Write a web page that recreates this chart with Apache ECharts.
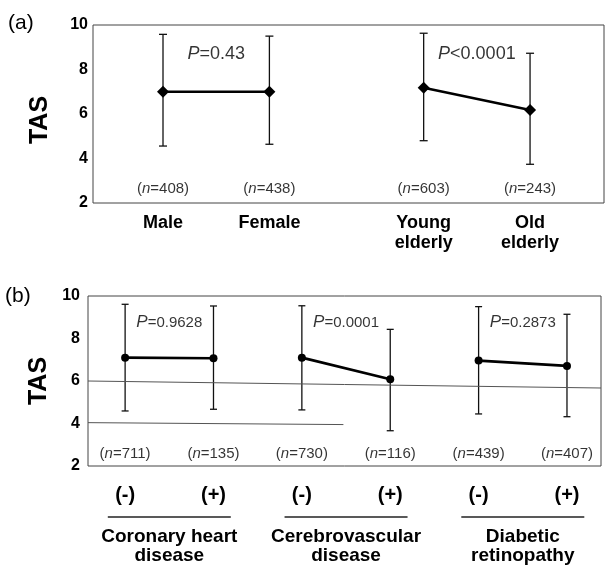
<!DOCTYPE html>
<html>
<head>
<meta charset="utf-8">
<script src="https://cdn.jsdelivr.net/npm/echarts@6/dist/echarts.min.js"></script>
<style>
html,body{margin:0;padding:0;background:#fff;}
#c{width:608px;height:573px;}
</style>
</head>
<body>
<div id="c"></div>
<script>
// ---------- Data ----------
const yTicks = [2, 4, 6, 8, 10];

// Panel (a)
const panelACategories = ['Male', 'Female', 'Young\nelderly', 'Old\nelderly'];
const panelAMeans = [7.0, 7.0, 7.18, 6.18];
const panelAUpper = [9.58, 9.5, 9.63, 8.73];
const panelALower = [4.56, 4.64, 4.8, 3.74];
const panelAN = [408, 438, 603, 243];
const panelAP = ['=0.43', '<0.0001'];

// Panel (b)
const panelBGroups = ['Coronary heart\ndisease', 'Cerebrovascular\ndisease', 'Diabetic\nretinopathy'];
const panelBStatus = ['(-)', '(+)'];
const panelBMeans = [7.1, 7.07, 7.1, 6.08, 6.96, 6.71];
const panelBUpper = [9.61, 9.53, 9.54, 8.43, 9.5, 9.14];
const panelBLower = [4.59, 4.67, 4.64, 3.66, 4.45, 4.32];
const panelBN = [711, 135, 730, 116, 439, 407];
const panelBP = ['=0.9628', '=0.0001', '=0.2873'];

// ---------- Layout helpers ----------
const FONT = '"Liberation Sans", Arial, Helvetica, sans-serif';
const aPairGap = 1.45;
const aX = panelACategories.map((_, i) => Math.floor(i / 2) * (1 + aPairGap) + (i % 2));
const bX = panelBMeans.map((_, i) => i);
const bGroupMid = panelBGroups.map((_, g) => (bX[2 * g] + bX[2 * g + 1]) / 2);

function findIdx(arr, v) {
  for (let i = 0; i < arr.length; i++) if (Math.abs(arr[i] - v) < 1e-6) return i;
  return -1;
}

function errorBars(xs, lo, hi, gi, cap) {
  return {
    type: 'custom', xAxisIndex: gi === 0 ? 0 : 1, yAxisIndex: gi, silent: true, z: 2,
    data: xs.map((x, i) => [x, lo[i], hi[i]]),
    encode: { x: 0, y: [1, 2] },
    renderItem(params, api) {
      const x = api.value(0);
      const p1 = api.coord([x, api.value(1)]);
      const p2 = api.coord([x, api.value(2)]);
      const st = { stroke: '#111', lineWidth: 1.3 };
      return {
        type: 'group', children: [
          { type: 'line', shape: { x1: p1[0], y1: p1[1], x2: p2[0], y2: p2[1] }, style: st },
          { type: 'line', shape: { x1: p1[0] - cap, y1: p1[1], x2: p1[0] + cap, y2: p1[1] }, style: st },
          { type: 'line', shape: { x1: p2[0] - cap, y1: p2[1], x2: p2[0] + cap, y2: p2[1] }, style: st }
        ]
      };
    }
  };
}

function pairLines(xs, means, gi, symbol, size, width) {
  const out = [];
  for (let g = 0; g < xs.length / 2; g++) {
    out.push({
      type: 'line', xAxisIndex: gi === 0 ? 0 : 1, yAxisIndex: gi, silent: true, z: 3,
      data: [[xs[2 * g], means[2 * g]], [xs[2 * g + 1], means[2 * g + 1]]],
      symbol: symbol, symbolSize: size, showSymbol: true,
      lineStyle: { color: '#000', width: width },
      itemStyle: { color: '#000' }
    });
  }
  return out;
}

function nLabels(xs, ns, gi, dist) {
  return {
    type: 'scatter', xAxisIndex: gi === 0 ? 0 : 1, yAxisIndex: gi, silent: true,
    symbolSize: 0,
    data: xs.map(x => [x, 2]),
    label: {
      show: true, position: 'top', distance: dist,
      formatter: p => '({i|n}=' + ns[p.dataIndex] + ')',
      fontSize: 15, color: '#000', fontFamily: FONT,
      rich: { i: { fontStyle: 'italic', fontSize: 15, color: '#000', fontFamily: FONT } }
    }
  };
}

function pLabels(xs, ps, gi, yv, pSize, tSize) {
  return {
    type: 'scatter', xAxisIndex: gi === 0 ? 0 : 1, yAxisIndex: gi, silent: true,
    symbolSize: 0,
    data: ps.map((_, g) => [(xs[2 * g] + xs[2 * g + 1]) / 2, yv]),
    label: {
      show: true, position: 'inside',
      formatter: p => '{i|P}{t|' + ps[p.dataIndex] + '}',
      rich: {
        i: { fontStyle: 'italic', fontSize: pSize, color: '#000', fontFamily: FONT },
        t: { fontSize: tSize, color: '#000', fontFamily: FONT }
      }
    }
  };
}

const yAxisBase = (gi, margin, nameGap, namePad) => ({
  gridIndex: gi, type: 'value', min: yTicks[0], max: yTicks[yTicks.length - 1], interval: 2,
  name: 'TAS', nameLocation: 'middle', nameGap: nameGap, nameRotate: 90,
  nameTextStyle: { fontSize: 25, fontWeight: 'bold', color: '#000', fontFamily: FONT, padding: namePad },
  axisLine: { show: false }, axisTick: { show: false }, splitLine: { show: false },
  axisLabel: { fontSize: 16, fontWeight: 'bold', color: '#000', margin: margin, fontFamily: FONT }
});

const hidden = { axisLine: { show: false }, axisTick: { show: false }, splitLine: { show: false } };

const option = {
  animation: false,
  backgroundColor: '#fff',
  graphic: [
    { type: 'text', left: 8, top: 13, style: { text: '(a)', font: '21px ' + FONT, fill: '#000' } },
    { type: 'text', left: 5, top: 286, style: { text: '(b)', font: '21px ' + FONT, fill: '#000' } }
  ],
  grid: [
    { left: 93, top: 25, width: 511, height: 178, show: true, borderColor: '#444', borderWidth: 1, backgroundColor: 'transparent' },
    { left: 88, top: 296, width: 513, height: 170, show: true, borderColor: '#444', borderWidth: 1, backgroundColor: 'transparent' }
  ],
  xAxis: [
    Object.assign({
      gridIndex: 0, type: 'value', min: -0.658, max: 4.145, position: 'bottom',
      axisLabel: {
        customValues: aX, formatter: v => panelACategories[findIdx(aX, v)] || '',
        fontSize: 18, fontWeight: 'bold', lineHeight: 20, margin: 10, color: '#000', fontFamily: FONT
      }
    }, hidden),
    Object.assign({
      gridIndex: 1, type: 'value', min: -0.42, max: 5.385, position: 'bottom',
      axisLabel: {
        customValues: bX, formatter: v => panelBStatus[findIdx(bX, v) % 2] || '',
        fontSize: 20, fontWeight: 'bold', lineHeight: 22, margin: 18, color: '#000', fontFamily: FONT
      }
    }, hidden),
    Object.assign({
      gridIndex: 1, type: 'value', min: -0.42, max: 5.385, position: 'bottom',
      axisLabel: {
        customValues: bGroupMid,
        formatter: v => {
          const g = findIdx(bGroupMid, v);
          if (g < 0) return '';
          return '{ul| }\n' + panelBGroups[g].split('\n').map(s => '{g|' + s + '}').join('\n');
        },
        margin: 41,
        rich: {
          ul: { width: 123, height: 1.5, lineHeight: 20, fontSize: 1, backgroundColor: '#222', align: 'center' },
          g: { fontSize: 19, fontWeight: 'bold', lineHeight: 19, color: '#000', fontFamily: FONT, align: 'center' }
        }
      }
    }, hidden)
  ],
  yAxis: [yAxisBase(0, 5, 40, [0, 12, 0, 0]), yAxisBase(1, 8, 36, 0)],
  series: [
    errorBars(aX, panelALower, panelAUpper, 0, 4),
    ...pairLines(aX, panelAMeans, 0, 'diamond', [12, 12], 2.6),
    nLabels(aX, panelAN, 0, 7),
    pLabels(aX, panelAP, 0, 8.7, 18, 18),

    errorBars(bX, panelBLower, panelBUpper, 1, 3.5),
    ...pairLines(bX, panelBMeans, 1, 'circle', 8, 2.6),
    nLabels(bX, panelBN, 1, 5),
    pLabels(bX, panelBP, 1, 8.75, 17, 15),
    {
      type: 'line', xAxisIndex: 1, yAxisIndex: 1, silent: true, data: [], z: 1,
      markLine: {
        silent: true, symbol: 'none', label: { show: false },
        lineStyle: { color: '#555', width: 1, type: 'solid' },
        data: [
          [{ coord: [-0.42, 6.0] }, { coord: [5.385, 5.67] }],
          [{ coord: [-0.42, 4.04] }, { coord: [2.47, 3.95] }]
        ]
      }
    }
  ]
};

const chart = echarts.init(document.getElementById('c'), null, { renderer: 'canvas' });
chart.setOption(option);
</script>
</body>
</html>
